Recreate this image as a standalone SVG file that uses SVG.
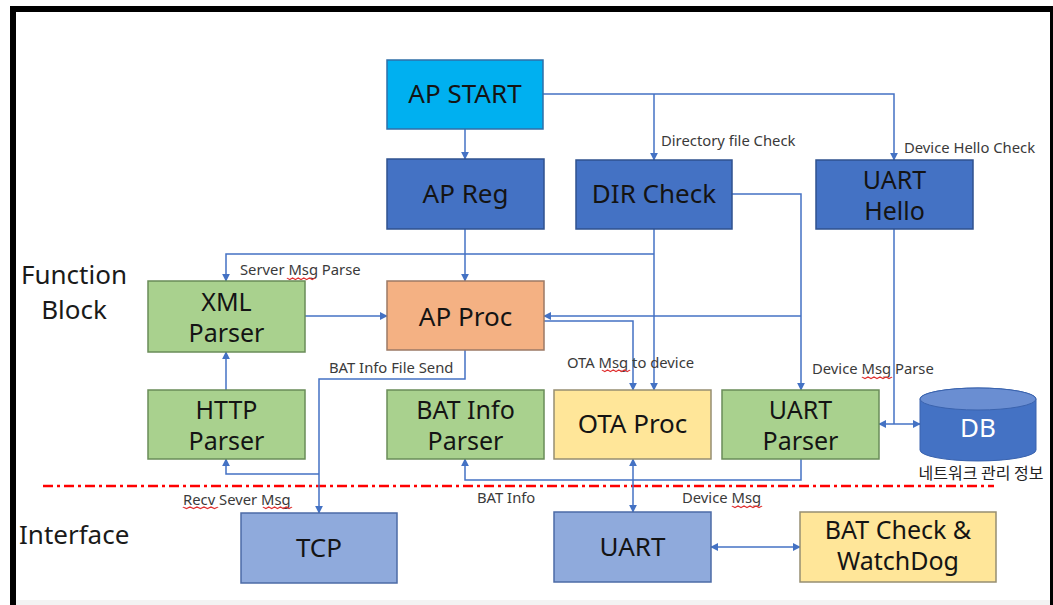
<svg xmlns="http://www.w3.org/2000/svg" width="1053" height="605" viewBox="0 0 1053 605">
  <defs>
    <marker id="arr" viewBox="0 0 10 10" refX="9" refY="5" markerWidth="8" markerHeight="8" markerUnits="userSpaceOnUse" orient="auto-start-reverse">
      <path d="M0,0 L10,5 L0,10 Z" fill="#4472C4"/>
    </marker>
    <path id="sq" d="M0,0 l1.5,1.5 l1.5,-1.5 l1.5,1.5 l1.5,-1.5 l1.5,1.5 l1.5,-1.5 l1.5,1.5 l1.5,-1.5 l1.5,1.5 l1.5,-1.5"/>
  </defs>
  <style>
    .box { stroke-width: 1.5; }
    .dk { fill: #4472C4; stroke: #2F528F; }
    .cy { fill: #00B0F0; stroke: #2F6FA8; }
    .gr { fill: #A9D18E; stroke: #6A8C58; }
    .or { fill: #F4B183; stroke: #9C7A66; }
    .ye { fill: #FFE699; stroke: #968E72; }
    .lb { fill: #8FAADC; stroke: #4C6BA6; }
    .t { font-family: "Noto Sans", "Open Sans", sans-serif; font-size: 26px; fill: #141414; text-anchor: middle; }
    .t2 { font-family: "Noto Sans", "Open Sans", sans-serif; font-size: 25px; fill: #141414; text-anchor: middle; }
    .lbl { font-family: "Noto Sans", "Open Sans", sans-serif; font-size: 14.8px; fill: #3a3a3a; }
    .side { font-family: "Noto Sans", "Open Sans", sans-serif; font-size: 26px; fill: #1a1a1a; }
    .ln { fill: none; stroke: #4472C4; stroke-width: 1.5; }
    .squig { fill: none; stroke: #E03030; stroke-width: 0.9; }
  </style>

  <!-- frame -->
  <rect x="13" y="9" width="1040" height="604" fill="#FFFFFF" stroke="#000000" stroke-width="6"/>
  <rect x="16" y="600" width="1034" height="5" fill="#F3F3F3"/>

  <!-- layer captions -->
  <text class="side" x="74" y="284" text-anchor="middle">Function</text>
  <text class="side" x="74" y="319" text-anchor="middle">Block</text>
  <text class="side" x="19" y="544">Interface</text>

  <!-- boundary between function blocks and interfaces -->
  <line x1="43" y1="486" x2="994" y2="486" stroke="#FF0000" stroke-width="2.5" stroke-dasharray="10 4 3 4"/>

  <!-- connectors -->
  <g id="connectors">
    <path class="ln" d="M465,129 V159" marker-end="url(#arr)"/>
    <path class="ln" d="M543,94 H894 V160" marker-end="url(#arr)"/>
    <path class="ln" d="M654,94 V160" marker-end="url(#arr)"/>
    <path class="ln" d="M465,229 V281" marker-end="url(#arr)"/>
    <path class="ln" d="M654,229 V390" marker-end="url(#arr)"/>
    <path class="ln" d="M654,254 H226 V281" marker-end="url(#arr)"/>
    <path class="ln" d="M732,194 H801 V390" marker-end="url(#arr)"/>
    <path class="ln" d="M801,316 H544" marker-end="url(#arr)"/>
    <path class="ln" d="M544,321 H633 V390" marker-end="url(#arr)"/>
    <path class="ln" d="M305,316 H387" marker-end="url(#arr)"/>
    <path class="ln" d="M226,390 V352" marker-end="url(#arr)"/>
    <path class="ln" d="M465,350 V379 H319 V513" marker-end="url(#arr)"/>
    <path class="ln" d="M319,474 H226 V459" marker-end="url(#arr)"/>
    <path class="ln" d="M633,459 V512" marker-start="url(#arr)" marker-end="url(#arr)"/>
    <path class="ln" d="M633,480 H465 V459" marker-end="url(#arr)"/>
    <path class="ln" d="M633,480 H801 V459"/>
    <path class="ln" d="M894,229 V424"/>
    <path class="ln" d="M879,424 H920" marker-start="url(#arr)" marker-end="url(#arr)"/>
    <path class="ln" d="M711,547 H800" marker-start="url(#arr)" marker-end="url(#arr)"/>

    <text class="lbl" x="661" y="146">Directory file Check</text>
    <text class="lbl" x="904" y="153">Device Hello Check</text>
    <text class="lbl" x="240" y="275">Server Msg Parse</text>
    <text class="lbl" x="329" y="373">BAT Info File Send</text>
    <text class="lbl" x="567" y="368">OTA Msg to device</text>
    <text class="lbl" x="812" y="374">Device Msg Parse</text>
    <text class="lbl" x="183" y="505">Recv Sever Msg</text>
    <text class="lbl" x="477" y="503">BAT Info</text>
    <text class="lbl" x="682" y="503">Device Msg</text>

    <!-- spell-check underlines -->
    <g class="squig">
      <use href="#sq" transform="translate(287,278) scale(1.87,1)"/>
      <use href="#sq" transform="translate(602,370) scale(1.87,1)"/>
      <use href="#sq" transform="translate(862,377) scale(2,1)"/>
      <use href="#sq" transform="translate(183,507) scale(2.33,1)"/>
      <use href="#sq" transform="translate(263,507) scale(1.93,1)"/>
      <use href="#sq" transform="translate(732,506) scale(2,1)"/>
      <use href="#sq" transform="translate(835,576) scale(8.5,1)"/>
    </g>
  </g>

  <!-- function blocks -->
  <g id="ap-start">
    <rect class="box cy" x="387" y="60" width="156" height="69"/>
    <text class="t" x="465" y="103">AP START</text>
  </g>
  <g id="ap-reg">
    <rect class="box dk" x="387" y="159" width="157" height="70"/>
    <text class="t" x="465.5" y="203">AP Reg</text>
  </g>
  <g id="dir-check">
    <rect class="box dk" x="576" y="160" width="156" height="69"/>
    <text class="t" x="654" y="203">DIR Check</text>
  </g>
  <g id="uart-hello">
    <rect class="box dk" x="816" y="160" width="157" height="69"/>
    <text class="t2" x="894.5" y="189">UART</text>
    <text class="t2" x="894.5" y="220">Hello</text>
  </g>
  <g id="xml-parser">
    <rect class="box gr" x="148" y="281" width="157" height="71"/>
    <text class="t2" x="226.5" y="311">XML</text>
    <text class="t2" x="226.5" y="342">Parser</text>
  </g>
  <g id="ap-proc">
    <rect class="box or" x="387" y="281" width="157" height="69"/>
    <text class="t" x="465.5" y="326">AP Proc</text>
  </g>
  <g id="http-parser">
    <rect class="box gr" x="148" y="390" width="157" height="69"/>
    <text class="t2" x="226.5" y="419">HTTP</text>
    <text class="t2" x="226.5" y="450">Parser</text>
  </g>
  <g id="bat-info-parser">
    <rect class="box gr" x="387" y="390" width="157" height="69"/>
    <text class="t2" x="465.5" y="419">BAT Info</text>
    <text class="t2" x="465.5" y="450">Parser</text>
  </g>
  <g id="ota-proc">
    <rect class="box ye" x="554" y="390" width="157" height="69"/>
    <text class="t" x="632.5" y="433">OTA Proc</text>
  </g>
  <g id="uart-parser">
    <rect class="box gr" x="722" y="390" width="157" height="69"/>
    <text class="t2" x="800.5" y="419">UART</text>
    <text class="t2" x="800.5" y="450">Parser</text>
  </g>
  <g id="db">
    <path d="M920,399 A58,11 0 0,1 1036,399 V450 A58,11 0 0,1 920,450 Z" fill="#4472C4" stroke="#3A63AE" stroke-width="1"/>
    <ellipse cx="978" cy="399" rx="58" ry="11" fill="#6A8ED2" stroke="#3A63AE" stroke-width="1"/>
    <text class="t" x="978" y="437" style="fill:#FFFFFF">DB</text>
    <text x="981" y="479" text-anchor="middle" font-family="'Noto Sans CJK KR', 'Noto Sans', sans-serif" font-size="16" fill="#222222">네트워크 관리 정보</text>
  </g>

  <!-- interfaces -->
  <g id="tcp">
    <rect class="box lb" x="241" y="513" width="156" height="70"/>
    <text class="t" x="319" y="557">TCP</text>
  </g>
  <g id="uart">
    <rect class="box lb" x="554" y="512" width="157" height="70"/>
    <text class="t" x="632.5" y="556">UART</text>
  </g>
  <g id="bat-check">
    <rect class="box ye" x="800" y="512" width="196" height="70"/>
    <text class="t2" x="898" y="539">BAT Check &amp;</text>
    <text class="t2" x="898" y="570">WatchDog</text>
  </g>
</svg>
